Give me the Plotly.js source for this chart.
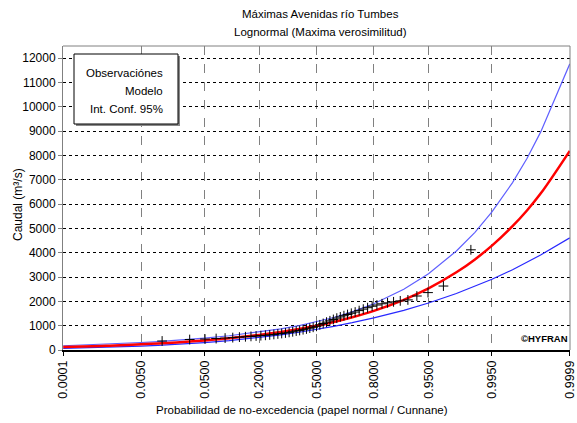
<!DOCTYPE html>
<html>
<head>
<meta charset="utf-8">
<script src="https://cdn.plot.ly/plotly-3.0.1.min.js"></script>
<style>html,body{margin:0;padding:0;background:#fff;}#chart{width:577px;height:423px;}</style>
</head>
<body>
<div id="chart"></div>
<script>
// ---- data ----
var titleLines = ['Máximas Avenidas río Tumbes', 'Lognormal (Maxima verosimilitud)'];
var tickProbs = [0.0001, 0.005, 0.05, 0.2, 0.5, 0.8, 0.95, 0.995, 0.9999];
var tickLabels = ['0.0001', '0.0050', '0.0500', '0.2000', '0.5000', '0.8000', '0.9500', '0.9950', '0.9999'];

var curveProbs = [0.0001, 0.0005, 0.001, 0.002, 0.005, 0.01, 0.02, 0.05, 0.1, 0.2, 0.3, 0.4, 0.5,
                  0.6, 0.7, 0.8, 0.9, 0.95, 0.98, 0.99, 0.995, 0.998, 0.999, 0.9995, 0.9999];
var modelQ = [122, 156, 174, 196, 233, 268, 313, 395, 484, 621, 744, 867, 1000,
              1154, 1345, 1610, 2065, 2535, 3195, 3726, 4292, 5091, 5736, 6430, 8190];
var upperQ = [175, 217, 239, 265, 308, 348, 399, 489, 585, 733, 867, 1004, 1155,
              1336, 1568, 1901, 2498, 3139, 4069, 4839, 5676, 6883, 7875, 8958, 11767];
var lowerQ = [69, 95, 109, 127, 158, 188, 227, 301, 383, 509, 621, 730, 845,
              972, 1122, 1319, 1632, 1931, 2321, 2613, 2908, 3299, 3597, 3902, 4613];

var obsProbs = [0.0117, 0.0313, 0.0508, 0.0703, 0.0898, 0.1094, 0.1289, 0.1484, 0.1680, 0.1875,
                0.2070, 0.2266, 0.2461, 0.2656, 0.2852, 0.3047, 0.3242, 0.3438, 0.3633, 0.3828,
                0.4023, 0.4219, 0.4414, 0.4609, 0.4805, 0.5000, 0.5195, 0.5391, 0.5586, 0.5781,
                0.5977, 0.6172, 0.6367, 0.6563, 0.6758, 0.6953, 0.7148, 0.7344, 0.7539, 0.7734,
                0.7930, 0.8125, 0.8320, 0.8516, 0.8711, 0.8906, 0.9102, 0.9297, 0.9492, 0.9688, 0.9883];
var obsQ = [370, 430, 450, 470, 490, 510, 530, 545, 560, 575,
            590, 605, 620, 640, 660, 680, 700, 725, 750, 780,
            805, 835, 865, 900, 935, 975, 1035, 1090, 1145, 1200,
            1255, 1310, 1360, 1410, 1460, 1510, 1560, 1620, 1680, 1740,
            1800, 1850, 1900, 1940, 1980, 2020, 2060, 2220, 2360, 2630, 4120];

var yTicks = [0, 1000, 2000, 3000, 4000, 5000, 6000, 7000, 8000, 9000, 10000, 11000, 12000];

// ---- normal probability scale (inverse normal CDF, Acklam) ----
function normInv(p) {
  var a = [-3.969683028665376e+01, 2.209460984245205e+02, -2.759285104469687e+02, 1.383577518672690e+02, -3.066479806614716e+01, 2.506628277459239e+00];
  var b = [-5.447609879822406e+01, 1.615858368580409e+02, -1.556989798598866e+02, 6.680131188771972e+01, -1.328068155288572e+01];
  var c = [-7.784894002430293e-03, -3.223964580411365e-01, -2.400758277161838e+00, -2.549732539343734e+00, 4.374664141464968e+00, 2.938163982698783e+00];
  var d = [7.784695709041462e-03, 3.224671290700398e-01, 2.445134137142996e+00, 3.754408661907416e+00];
  var pl = 0.02425, q, r;
  if (p < pl) { q = Math.sqrt(-2 * Math.log(p));
    return (((((c[0]*q+c[1])*q+c[2])*q+c[3])*q+c[4])*q+c[5]) / ((((d[0]*q+d[1])*q+d[2])*q+d[3])*q+1); }
  if (p > 1 - pl) { q = Math.sqrt(-2 * Math.log(1 - p));
    return -(((((c[0]*q+c[1])*q+c[2])*q+c[3])*q+c[4])*q+c[5]) / ((((d[0]*q+d[1])*q+d[2])*q+d[3])*q+1); }
  q = p - 0.5; r = q * q;
  return (((((a[0]*r+a[1])*r+a[2])*r+a[3])*r+a[4])*r+a[5])*q / (((((b[0]*r+b[1])*r+b[2])*r+b[3])*r+b[4])*r+1);
}
function toZ(arr) { return arr.map(normInv); }

// ---- layout geometry ----
var W = 577, H = 423, ML = 63, MR = 7, MT = 46, MB = 73;
var PW = W - ML - MR, PH = H - MT - MB;
function px(x) { return (x - ML) / PW; }
function py(y) { return (H - MB - y) / PH; }

var FONT = '"Liberation Sans", Arial, sans-serif';
var TXT = 11.5;

var traces = [
  { x: toZ(curveProbs), y: upperQ, mode: 'lines', line: { color: 'rgb(95,95,255)', width: 1.2 }, hoverinfo: 'skip' },
  { x: toZ(curveProbs), y: lowerQ, mode: 'lines', line: { color: 'rgb(40,40,255)', width: 1.2 }, hoverinfo: 'skip' },
  { x: toZ(curveProbs), y: modelQ, mode: 'lines', line: { color: '#ff0000', width: 2.5, shape: 'spline' } },
  { x: toZ(obsProbs), y: obsQ, mode: 'markers',
    marker: { symbol: 'cross-thin', size: 7, color: '#000', line: { color: '#000', width: 1 } } }
];

var zMin = normInv(0.0001), zMax = normInv(0.9999);
var eps = 0.003;

var layout = {
  width: W, height: H,
  margin: { l: ML, r: MR, t: MT, b: MB, pad: 0 },
  paper_bgcolor: '#fff', plot_bgcolor: '#fff',
  showlegend: false,
  font: { family: FONT, size: TXT, color: '#000' },
  xaxis: {
    range: [zMin - eps, zMax + eps],
    tickvals: toZ(tickProbs), ticktext: tickLabels, tickangle: -90,
    tickfont: { family: FONT, size: 12.5, color: '#000' },
    ticks: 'outside', ticklen: 4, tickcolor: '#000',
    showgrid: true, gridcolor: '#808080', griddash: 'dash', gridwidth: 1,
    showline: true, linecolor: '#000', linewidth: 1.5,
    zeroline: false, fixedrange: true
  },
  yaxis: {
    range: [0, 12500],
    tickvals: yTicks, ticktext: yTicks.map(String),
    tickfont: { family: FONT, size: 12, color: '#000' },
    ticks: 'outside', ticklen: 4, tickcolor: '#808080',
    showgrid: true, gridcolor: '#000', griddash: 'dot', gridwidth: 1,
    showline: true, linecolor: '#808080', linewidth: 1,
    zeroline: false, fixedrange: true
  },
  shapes: [
    { type: 'line', xref: 'paper', yref: 'paper', x0: 0, x1: 1, y0: 1, y1: 1, line: { color: '#808080', width: 1 } },
    { type: 'line', xref: 'paper', yref: 'paper', x0: 1, x1: 1, y0: 0, y1: 1, line: { color: '#808080', width: 1 } },
    { type: 'rect', xref: 'paper', yref: 'paper', x0: px(76), x1: px(180), y0: py(126), y1: py(56),
      fillcolor: '#888', line: { width: 0 } },
    { type: 'rect', xref: 'paper', yref: 'paper', x0: px(74), x1: px(178), y0: py(124), y1: py(54),
      fillcolor: '#fff', line: { color: '#000', width: 1 } }
  ],
  annotations: [
    { text: titleLines[0], xref: 'paper', yref: 'paper', x: px(320), y: py(14), xanchor: 'center', yanchor: 'middle', showarrow: false, font: { family: FONT, size: TXT } },
    { text: titleLines[1], xref: 'paper', yref: 'paper', x: px(320), y: py(32), xanchor: 'center', yanchor: 'middle', showarrow: false, font: { family: FONT, size: TXT } },
    { text: 'Observaciónes', xref: 'paper', yref: 'paper', x: px(165), y: py(73), xanchor: 'right', yanchor: 'middle', showarrow: false, font: { family: FONT, size: TXT } },
    { text: 'Modelo', xref: 'paper', yref: 'paper', x: px(165), y: py(91), xanchor: 'right', yanchor: 'middle', showarrow: false, font: { family: FONT, size: TXT } },
    { text: 'Int. Conf. 95%', xref: 'paper', yref: 'paper', x: px(165), y: py(109), xanchor: 'right', yanchor: 'middle', showarrow: false, font: { family: FONT, size: TXT } },
    { text: '<b>©HYFRAN</b>', xref: 'paper', yref: 'paper', x: 1, y: py(338), xanchor: 'right', yanchor: 'middle', showarrow: false, font: { family: FONT, size: 9.5 } },
    { text: 'Probabilidad de no-excedencia (papel normal / Cunnane)', xref: 'paper', yref: 'paper', x: px(302), y: py(410), xanchor: 'center', yanchor: 'middle', showarrow: false, font: { family: FONT, size: TXT } },
    { text: 'Caudal (m³/s)', xref: 'paper', yref: 'paper', x: px(18), y: py(205), xanchor: 'center', yanchor: 'middle', textangle: -90, showarrow: false, font: { family: FONT, size: 12 } }
  ]
};

Plotly.newPlot('chart', traces, layout, { displayModeBar: false, staticPlot: true });
</script>
</body>
</html>
